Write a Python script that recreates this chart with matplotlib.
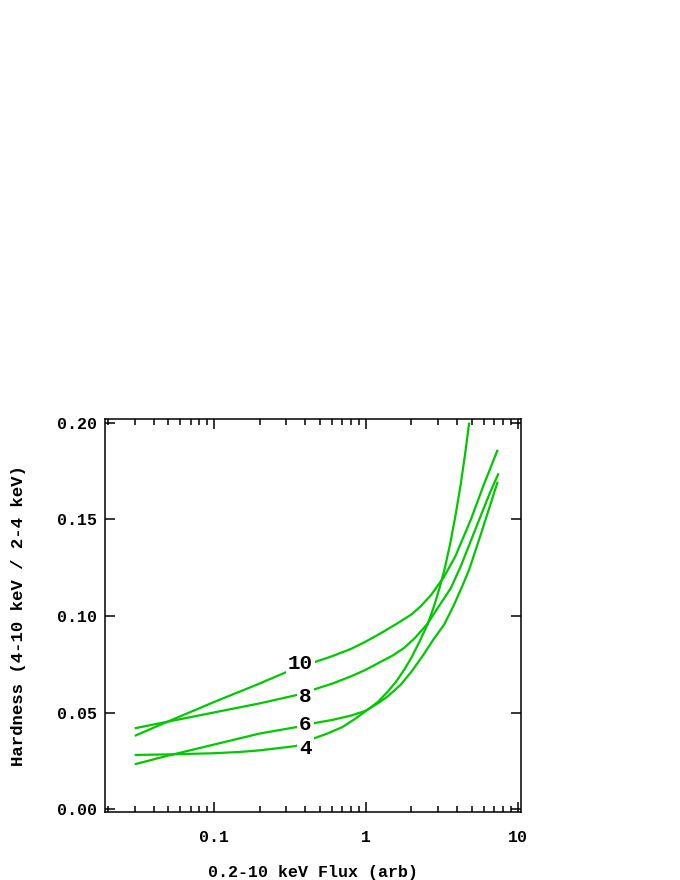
import numpy as np
import matplotlib
matplotlib.use("Agg")
import matplotlib.pyplot as plt
from matplotlib.ticker import FixedLocator, FuncFormatter, LogLocator, NullFormatter

# hardness ratio vs flux, one curve per parameter value
x10 = [0.03, 0.05, 0.1, 0.2, 0.3, 0.47, 0.6, 0.8, 1.0, 1.25, 1.6, 2.0, 2.3, 2.7, 3.28, 3.9, 4.93, 6.0, 7.4]
y10 = [0.0380, 0.0455, 0.0555, 0.0651, 0.0710, 0.0764, 0.0792, 0.0830, 0.0868, 0.0910, 0.0960,
       0.1008, 0.1050, 0.1110, 0.1203, 0.1310, 0.1500, 0.1680, 0.1860]

x8 = [0.03, 0.05, 0.1, 0.2, 0.35, 0.456, 0.6, 0.8, 1.0, 1.26, 1.5, 1.79, 2.1, 2.55, 3.0, 3.64, 4.24, 4.93, 5.8, 6.6, 7.5]
y8 = [0.0419, 0.0454, 0.0501, 0.0548, 0.0591, 0.0620, 0.0650, 0.0688, 0.0722, 0.0764, 0.0795,
      0.0835, 0.0885, 0.0960, 0.1045, 0.1145, 0.1260, 0.1390, 0.1530, 0.1640, 0.1738]

x6 = [0.03, 0.05, 0.1, 0.2, 0.36, 0.45, 0.6, 0.8, 1.0, 1.2, 1.4, 1.7, 2.0, 2.4, 2.8, 3.28, 3.8, 4.3, 4.8, 5.5, 6.4, 7.4]
y6 = [0.0233, 0.0278, 0.0335, 0.0392, 0.0427, 0.0445, 0.0462, 0.0485, 0.0510, 0.0548, 0.0585,
      0.0645, 0.0712, 0.0800, 0.0880, 0.0955, 0.1055, 0.1150, 0.1240, 0.1380, 0.1540, 0.1695]

x4 = [0.03, 0.05, 0.1, 0.15, 0.2, 0.345, 0.456, 0.55, 0.7, 0.85, 1.0, 1.2, 1.4, 1.6, 1.8, 2.0,
      2.25, 2.55, 2.8, 3.05, 3.3, 3.6, 3.9, 4.2, 4.5, 4.8]
y4 = [0.0281, 0.0284, 0.0290, 0.0297, 0.0305, 0.0327, 0.0367, 0.0390, 0.0425, 0.0468, 0.0508,
      0.0555, 0.0610, 0.0665, 0.0725, 0.0785, 0.0865, 0.0955, 0.1045, 0.1140, 0.1240, 0.1375,
      0.1520, 0.1670, 0.1830, 0.2000]

labels = ["10", "8", "6", "4"]
label_x = [0.37, 0.40, 0.40, 0.40]
label_y = [0.0752, 0.0585, 0.0440, 0.0312]

green = "#00c800"
mono = "Liberation Mono"

fig = plt.figure(figsize=(6.8, 8.8), dpi=100)
ax = fig.add_axes([105 / 680, 68 / 880, 416 / 680, 393 / 880])

for xs, ys in [(x10, y10), (x8, y8), (x6, y6), (x4, y4)]:
    ax.plot(xs, ys, color=green, lw=1.6, solid_capstyle="butt", zorder=2)

for t, lx, ly in zip(labels, label_x, label_y):
    ax.text(lx, ly, t, family=mono, weight="bold", fontsize=15,
            ha="center", va="center",
            bbox=dict(boxstyle="square,pad=0.1", fc="white", ec="none"), zorder=3)

ax.set_xscale("log")
ax.set_xlim(0.0191, 10.54)
ax.set_ylim(-0.0014, 0.2019)

ax.xaxis.set_major_locator(FixedLocator([0.1, 1, 10]))
ax.xaxis.set_major_formatter(FuncFormatter(lambda v, p: "%g" % v))
ax.xaxis.set_minor_locator(LogLocator(base=10, subs=np.arange(2, 10)))
ax.xaxis.set_minor_formatter(NullFormatter())
ax.set_yticks([0.0, 0.05, 0.10, 0.15, 0.20])
ax.yaxis.set_major_formatter(FuncFormatter(lambda v, p: "%.2f" % v))

ax.tick_params(which="both", direction="in", top=True, right=True, width=1.1, color="black")
ax.tick_params(which="major", length=7.5)
ax.tick_params(which="minor", length=4.3)
ax.tick_params(axis="x", pad=13)
ax.tick_params(axis="y", pad=6)
for lab in ax.get_xticklabels() + ax.get_yticklabels():
    lab.set_family(mono)
    lab.set_weight("bold")
    lab.set_fontsize(12)

for s in ax.spines.values():
    s.set_linewidth(1.1)

ax.set_xlabel("0.2-10 keV Flux (arb)", family=mono, weight="bold", fontsize=12, labelpad=14)
ax.set_ylabel("Hardness (4-10 keV / 2-4 keV)", family=mono, weight="bold", fontsize=12.5, labelpad=22)

fig.savefig("out.png", dpi=100)
